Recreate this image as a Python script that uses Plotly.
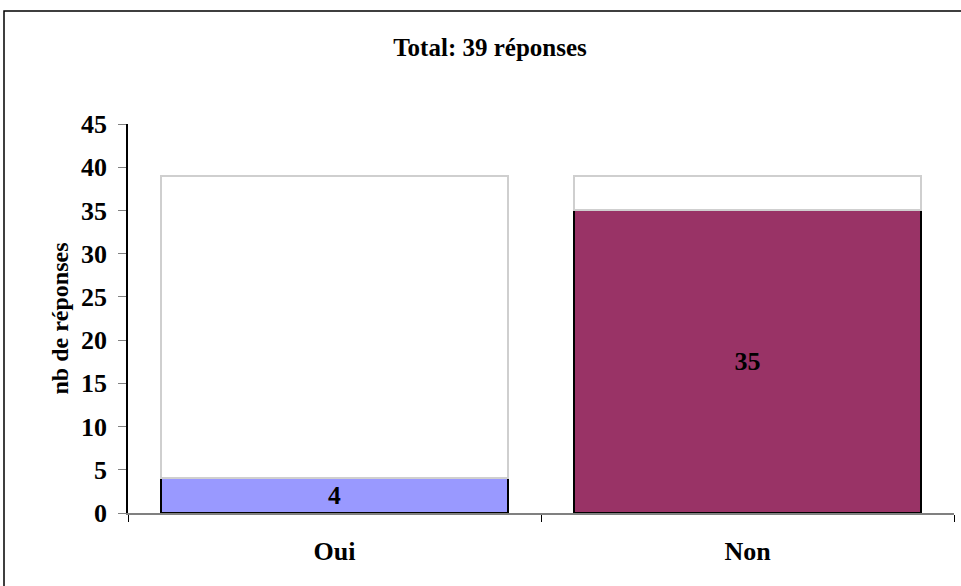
import plotly.graph_objects as go

categories = ["Oui", "Non"]
values = [4, 35]
totals = [39, 39]
bar_colors = ["#9999FF", "#993366"]
title_text = "Total: 39 réponses"
y_title = "nb de réponses"

remainder = [t - v for t, v in zip(totals, values)]

FONT = "Liberation Serif"

fig = go.Figure()
fig.add_trace(go.Bar(
    x=categories, y=values,
    marker=dict(color=bar_colors, line=dict(color="#000000", width=1.5)),
    text=[str(v) for v in values], textposition="inside", insidetextanchor="middle",
    textangle=0,
    textfont=dict(family=FONT, size=26, color="#000000", weight="bold"),
    showlegend=False, hoverinfo="skip",
))
fig.add_trace(go.Bar(
    x=categories, y=remainder,
    marker=dict(color="#FFFFFF", line=dict(color="#CFCFCF", width=2)),
    showlegend=False, hoverinfo="skip",
))

W, H = 961, 586
L, R, T, B = 128, 7, 124, 73
pw = W - L - R
ph = H - T - B

def px(xp):
    return (xp - L) / pw

def py(yp):
    return (H - B - yp) / ph

fig.update_layout(
    width=W, height=H,
    margin=dict(l=L, r=R, t=T, b=B),
    barmode="stack", bargap=0.16,
    paper_bgcolor="#FFFFFF", plot_bgcolor="#FFFFFF",
    font=dict(family=FONT, color="#000000"),
    title=dict(text="<b>" + title_text + "</b>", x=490 / W, xref="container", xanchor="center",
               y=1 - 47 / H, yref="container", yanchor="middle",
               font=dict(family=FONT, size=25, color="#000000")),
    xaxis=dict(
        showline=True, linecolor="#808080", linewidth=1.5,
        ticks="outside", tickson="boundaries", ticklen=7, tickcolor="#000000", tickwidth=1,
        tickfont=dict(family=FONT, size=26, color="#000000", weight="bold"),
        ticklabelstandoff=14,
        showgrid=False, zeroline=False,
    ),
    yaxis=dict(
        range=[0, 45], tickvals=[0, 5, 10, 15, 20, 25, 30, 35, 40, 45],
        showline=True, linecolor="#000000", linewidth=1.5,
        ticks="outside", ticklen=8, tickcolor="#808080", tickwidth=1,
        tickfont=dict(family=FONT, size=26, color="#000000", weight="bold"),
        ticklabelstandoff=6,
        showgrid=False, zeroline=False,
        title=dict(text="<b>" + y_title + "</b>", standoff=6,
                   font=dict(family=FONT, size=24, color="#000000")),
    ),
    shapes=[dict(type="rect", xref="paper", yref="paper",
                 x0=px(4), x1=px(962), y0=py(590), y1=py(11),
                 line=dict(color="#000000", width=1.5), fillcolor="rgba(0,0,0,0)", layer="below")],
)

fig.write_html("out.html")
